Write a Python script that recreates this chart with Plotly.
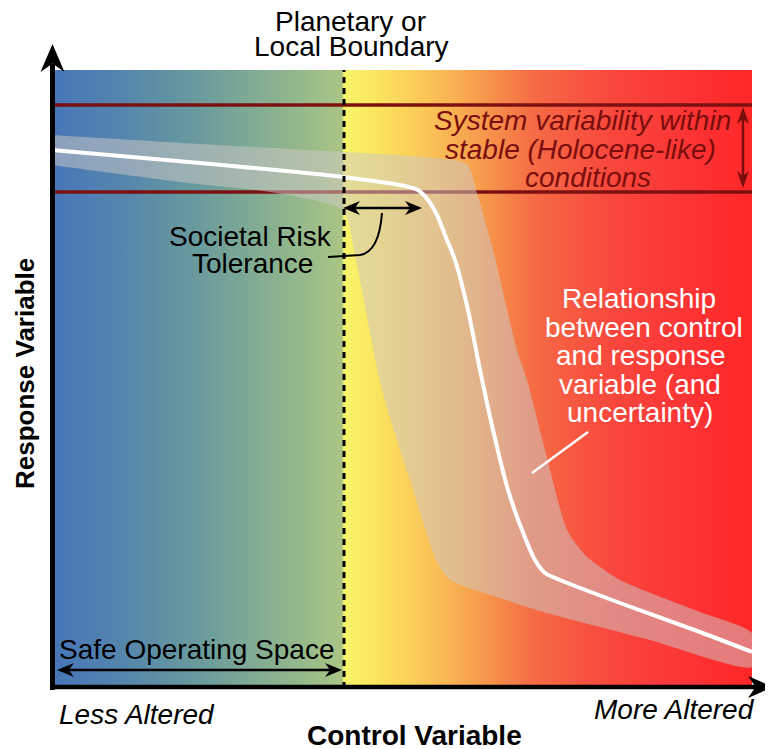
import plotly.graph_objects as go

# ---------------- data (control units 0..700, response units 0..618) ----------------
curve_x = [0, 148, 291, 353, 366, 376, 385, 393, 403, 416, 428, 441, 456, 470, 483, 493, 508, 568, 648, 700]
curve_y = [538, 525, 511, 502, 498, 488, 473, 453, 428, 378, 318, 258, 198, 158, 128, 115, 108, 85, 56, 36]

band_upper_x = [0, 148, 311, 403, 416, 425, 441, 465, 475, 493, 515, 533, 568, 648, 700]
band_upper_y = [553, 544, 535, 528, 523, 495, 438, 338, 308, 238, 158, 133, 108, 76, 55]
band_lower_x = [0, 128, 218, 291, 303, 330, 358, 385, 398, 448, 495, 598, 700]
band_lower_y = [523, 506, 496, 478, 433, 298, 208, 126, 108, 90, 75, 48, 21]

holocene_bounds = [496, 583]      # stable (Holocene-like) variability range of response
boundary_x = 292                  # planetary / local boundary on control axis
risk_tolerance = [291, 370]       # control range of societal risk tolerance
safe_space = [5, 290]             # safe operating space on control axis
x_range = [0, 700]
y_range = [0, 618]

# gradient of the control axis background (position, colour)
grad_stops = [(0, "#4776b9"), (70, "#5585ad"), (150, "#6b9c9c"), (220, "#88b090"),
              (290, "#a9c585"), (292, "#f9f56a"), (330, "#fbe25e"), (380, "#fac257"),
              (430, "#f69a4c"), (480, "#f56c45"), (560, "#f8473d"), (640, "#fc3334"),
              (700, "#ff2727")]

# ---------------- layout geometry (screen pixels) ----------------
W, H = 773, 749
OFF = 8                       # page body margin offset
PL, PR, PT, PB = 52, 752, 70, 688
PW, PH = PR - PL, PB - PT
FONT = "Arial, 'Liberation Sans', sans-serif"
DARKRED = "#7a0d0d"

def to_paper(px, py):
    return (px - PL) / PW, (PB - py) / PH

def to_data(px, py):
    return px - PL, PB - py

def d2s(x, y):
    return x + PL, PB - y

fig = go.Figure()

# background gradient
fig.add_trace(go.Scatter(
    x=[x_range[0], x_range[1], x_range[1], x_range[0], x_range[0]],
    y=[y_range[0], y_range[0], y_range[1], y_range[1], y_range[0]],
    mode="lines", line=dict(width=0), fill="toself",
    fillgradient=dict(type="horizontal",
                      colorscale=[[p / x_range[1], c] for p, c in grad_stops]),
    hoverinfo="skip"))

# holocene variability lines
for yv in holocene_bounds:
    fig.add_trace(go.Scatter(x=x_range, y=[yv, yv], mode="lines",
                             line=dict(color="#7d1010", width=3.5), hoverinfo="skip"))

# uncertainty band
fig.add_trace(go.Scatter(
    x=band_upper_x + band_lower_x[::-1], y=band_upper_y + band_lower_y[::-1],
    mode="lines", fill="toself", fillcolor="rgba(205,200,198,0.52)",
    line=dict(width=0, shape="spline", smoothing=0.6), hoverinfo="skip"))

# relationship curve
fig.add_trace(go.Scatter(x=curve_x, y=curve_y, mode="lines",
                         line=dict(color="white", width=4, shape="spline", smoothing=0.7),
                         hoverinfo="skip"))

shapes = []

def head(tip, toward, L, Wd, conv, ref, color):
    tx, ty = tip
    bx, by = toward
    n = (bx ** 2 + by ** 2) ** 0.5
    bx, by = bx / n, by / n
    nx, ny = -by, bx
    pts = [(tx, ty),
           (tx + L * bx + Wd / 2 * nx, ty + L * by + Wd / 2 * ny),
           (tx + 0.7 * L * bx, ty + 0.7 * L * by),
           (tx + L * bx - Wd / 2 * nx, ty + L * by - Wd / 2 * ny)]
    cp = [conv(*p) for p in pts]
    path = "M{},{} L{},{} L{},{} L{},{} Z".format(*[v for p in cp for v in p])
    shapes.append(dict(type="path", path=path, xref=ref[0], yref=ref[1],
                       fillcolor=color, line=dict(width=0), layer="above"))

def double_arrow(a, b, width, color, L, Wd, conv, ref):
    ax_, ay_ = a
    bx_, by_ = b
    dx, dy = bx_ - ax_, by_ - ay_
    n = (dx ** 2 + dy ** 2) ** 0.5
    ux, uy = dx / n, dy / n
    s0 = conv(ax_ + 0.6 * L * ux, ay_ + 0.6 * L * uy)
    s1 = conv(bx_ - 0.6 * L * ux, by_ - 0.6 * L * uy)
    shapes.append(dict(type="line", x0=s0[0], y0=s0[1], x1=s1[0], y1=s1[1],
                       xref=ref[0], yref=ref[1], line=dict(color=color, width=width), layer="above"))
    head(a, (ux, uy), L, Wd, conv, ref, color)
    head(b, (-ux, -uy), L, Wd, conv, ref, color)

DREF = ("x", "y")
PREF = ("paper", "paper")

# boundary dashed line
shapes.append(dict(type="line", x0=boundary_x, x1=boundary_x, y0=y_range[0], y1=y_range[1],
                   xref="x", yref="y", line=dict(color="black", width=3, dash="6px,5px"),
                   layer="above"))

# societal risk tolerance arrow
ry = holocene_bounds[0] - 16
double_arrow(d2s(risk_tolerance[0], ry), d2s(risk_tolerance[1], ry), 2.5, "black", 17, 14, to_data, DREF)
shapes.append(dict(type="path", path="M330,475 Q327,436 308,433 L276,431", xref="x", yref="y",
                   line=dict(color="black", width=2), layer="above"))

# safe operating space arrow
double_arrow(d2s(safe_space[0], 18), d2s(safe_space[1], 18), 2.5, "black", 17, 14, to_data, DREF)

# system variability arrow
double_arrow(d2s(691, holocene_bounds[1] - 2), d2s(691, holocene_bounds[0] + 4), 2.5, DARKRED, 17, 12, to_data, DREF)

# leader line to band
shapes.append(dict(type="line", x0=536, y0=256, x1=480, y1=215, xref="x", yref="y",
                   line=dict(color="white", width=2.5), layer="above"))

# axes with arrows
y0p = to_paper(52.5, 690)
y1p = to_paper(52.5, 64)
shapes.append(dict(type="line", x0=y0p[0], y0=y0p[1], x1=y1p[0], y1=y1p[1], xref="paper", yref="paper",
                   line=dict(color="black", width=5), layer="above"))
head((52.5, 44), (0, 1), 28, 24, to_paper, PREF, "black")
x0p = to_paper(50, 687)
x1p = to_paper(756, 687)
shapes.append(dict(type="line", x0=x0p[0], y0=x0p[1], x1=x1p[0], y1=x1p[1], xref="paper", yref="paper",
                   line=dict(color="black", width=4.5), layer="above"))
head((773, 687), (-1, 0), 25, 22, to_paper, PREF, "black")

# ---------------- text ----------------
annots = []

def txt(text, px, py, size=28, color="black", xanchor="center", angle=0):
    x, y = to_paper(px, py)
    annots.append(dict(text=text, x=x, y=y, xref="paper", yref="paper", showarrow=False,
                       xanchor=xanchor, yanchor="middle", textangle=angle,
                       font=dict(family=FONT, size=size, color=color)))

txt("Planetary or", 350, 21)
txt("Local Boundary", 351, 47)
txt("Societal Risk", 250, 237)
txt("Tolerance", 252, 263)
txt("<i>System variability within</i>", 582, 120, color=DARKRED)
txt("<i>stable (Holocene-like)</i>", 580, 149, color=DARKRED)
txt("<i>conditions</i>", 588, 177, color=DARKRED)
for t, x, y in [("Relationship", 639, 298), ("between control", 644, 327), ("and response", 641, 355),
                ("variable (and", 640, 384), ("uncertainty)", 640, 412)]:
    txt(t, x, y, color="white")
txt("Safe Operating Space", 197, 649)
txt("<i>Less Altered</i>", 57, 714, xanchor="left")
txt("<i>More Altered</i>", 757, 709, xanchor="right")
txt("<b>Control Variable</b>", 414, 735)
txt("<b>Response Variable</b>", 25, 374, size=26, angle=-90)

fig.update_layout(
    width=W - OFF, height=H - OFF,
    margin=dict(l=PL - OFF, r=W - PR, t=PT - OFF, b=H - PB, pad=0),
    xaxis=dict(range=x_range, visible=False, fixedrange=True),
    yaxis=dict(range=y_range, visible=False, fixedrange=True),
    plot_bgcolor="white", paper_bgcolor="white",
    showlegend=False, shapes=shapes, annotations=annots,
)

fig.write_html("out.html")
